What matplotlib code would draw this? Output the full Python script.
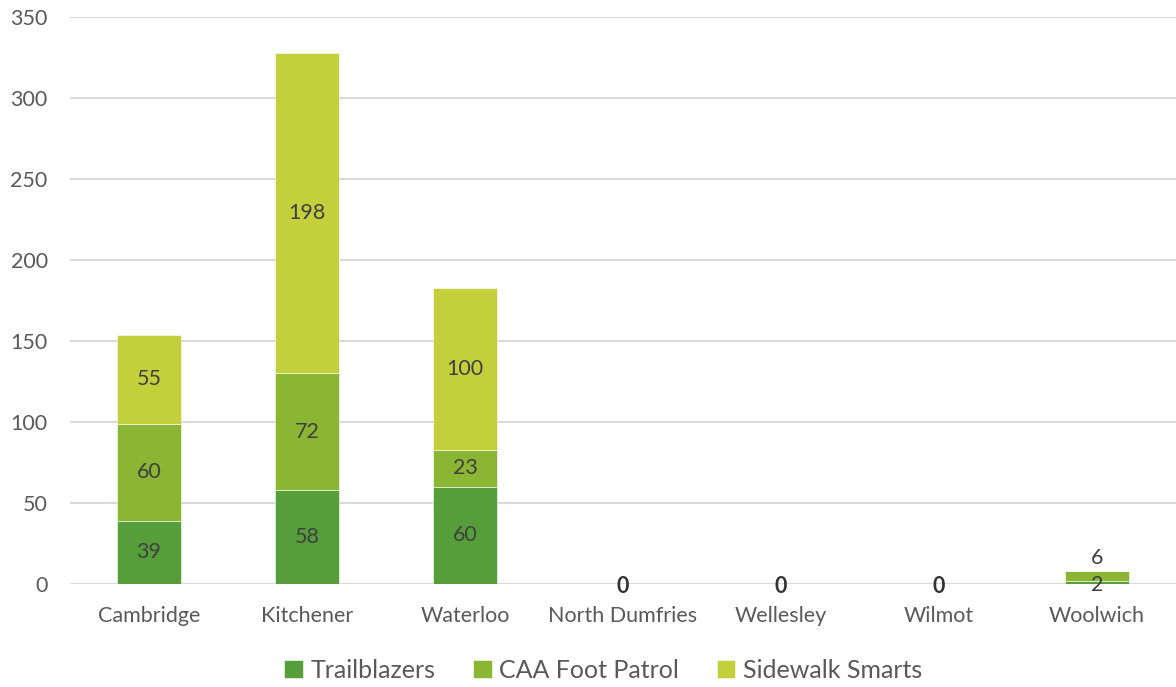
import numpy as np
import matplotlib.pyplot as plt

plt.rcParams['font.family'] = ['Lato', 'DejaVu Sans']

regions = ['Cambridge', 'Kitchener', 'Waterloo', 'North Dumfries', 'Wellesley', 'Wilmot', 'Woolwich']
trailblazers = [39, 58, 60, 0, 0, 0, 2]
caa_foot_patrol = [60, 72, 23, 0, 0, 0, 6]
sidewalk_smarts = [55, 198, 100, 0, 0, 0, 0]

series = [('Trailblazers', trailblazers, '#559e3a'),
          ('CAA Foot Patrol', caa_foot_patrol, '#8ab634'),
          ('Sidewalk Smarts', sidewalk_smarts, '#c3d03c')]

fig = plt.figure(figsize=(11.76, 6.87), dpi=100)
ax = fig.add_axes([0.0595, 0.15, 0.9405, 0.825])

lab_size = 15.5
x = np.arange(len(regions))
bottom = np.zeros(len(regions))
for name, vals, col in series:
    vals = np.array(vals, dtype=float)
    ax.bar(x, vals, 0.4, bottom=bottom, color=col, label=name,
           edgecolor='white', linewidth=0.4, zorder=3)
    for i, v in enumerate(vals):
        if v >= 10:
            ax.text(x[i], bottom[i] + v / 2, f'{int(v)}', ha='center', va='center',
                    fontsize=lab_size, color='#404040', zorder=4)
    bottom += vals

# empty columns: the zero labels sit on the axis
for i in range(len(regions)):
    if bottom[i] == 0:
        ax.text(x[i], -1.5, '0', ha='center', va='center', fontsize=lab_size,
                color='#333333', fontweight='bold', zorder=4)
# Woolwich small segments
i = regions.index('Woolwich')
ax.text(x[i], trailblazers[i] / 2 - 1.5, f'{trailblazers[i]}', ha='center', va='center',
        fontsize=lab_size, color='#404040', zorder=4)
ax.text(x[i], bottom[i] + 8, f'{caa_foot_patrol[i]}', ha='center', va='center',
        fontsize=lab_size, color='#404040', zorder=4)

ax.set_xlim(-0.5, len(regions) - 0.5)
ax.set_ylim(0, 350)
ax.set_yticks(np.arange(0, 351, 50))
ax.yaxis.grid(True, color='#d9d9d9', linewidth=1.5, zorder=0)
ax.set_axisbelow(True)
for s in ['top', 'right', 'left', 'bottom']:
    ax.spines[s].set_visible(False)
ax.tick_params(axis='both', length=0, labelsize=lab_size, colors='#595959')
ax.tick_params(axis='y', pad=16)
ax.tick_params(axis='x', pad=16)
ax.set_xticks(x)
ax.set_xticklabels(regions)

ax.legend(loc='center', bbox_to_anchor=(0.482, -0.152), ncol=3, frameon=False,
          fontsize=18, handlelength=0.75, handleheight=0.75, handletextpad=0.3,
          columnspacing=1.5, labelcolor='#595959')

fig.savefig('out.png', dpi=100)
